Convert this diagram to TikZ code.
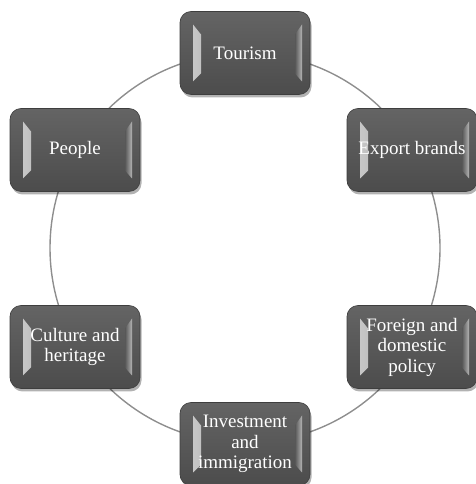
\documentclass[tikz,border=0pt]{standalone}
\usepackage{fontspec}
\setmainfont{Liberation Serif}
\usetikzlibrary{shadows,calc}
\definecolor{boxtop}{HTML}{646464}
\definecolor{boxbot}{HTML}{4C4C4C}
\definecolor{boxface}{HTML}{585858}
\definecolor{boxedge}{HTML}{3E3E3E}
\definecolor{ringgray}{HTML}{8E8E8E}
\tikzset{
  ring/.style={draw=ringgray, line width=1.4pt},
  bevel/.style={sharp corners},
  boxnode/.style={
    rectangle, rounded corners=11pt, minimum width=130pt, minimum height=83pt,
    draw=boxedge, line width=0.6pt,
    top color=boxtop, bottom color=boxbot, text=white, align=center, inner sep=2pt,
    font=\fontsize{19}{20.5}\selectfont,
    drop shadow={shadow xshift=1.5pt, shadow yshift=-3pt, opacity=0.3, fill=black},
    path picture={
      \shade[bevel, left color=white!72!boxface, right color=boxface!85!white]
        let \p1=(path picture bounding box.south west), \p2=(path picture bounding box.north east) in
        (\x1+13pt,\y1+13pt) -- (\x1+21pt,\y1+21pt) -- (\x1+21pt,\y2-23pt) -- (\x1+13pt,\y2-13pt) -- cycle;
      \shade[bevel, left color=boxface, right color=white!55!boxface]
        let \p1=(path picture bounding box.south west), \p2=(path picture bounding box.north east) in
        (\x2-8pt,\y1+13pt) -- (\x2-15pt,\y1+21pt) -- (\x2-15pt,\y2-23pt) -- (\x2-8pt,\y2-13pt) -- cycle;
    }
  }
}
\begin{document}
\begin{tikzpicture}[x=1pt,y=1pt]
\useasboundingbox (0,0) rectangle (475,484);
\coordinate (c) at (245,236);
\draw[ring] (c) circle (195);
\node[boxnode] (tourism) at (245,431) {Tourism};
\node[boxnode] (export) at (412,334) {Export brands};
\node[boxnode] (foreign) at (412,137) {Foreign and\\domestic\\policy};
\node[boxnode] (invest) at (245,40) {Investment\\and\\immigration};
\node[boxnode] (culture) at (75,137) {Culture and\\heritage};
\node[boxnode] (people) at (75,334) {People};
\end{tikzpicture}
\end{document}
